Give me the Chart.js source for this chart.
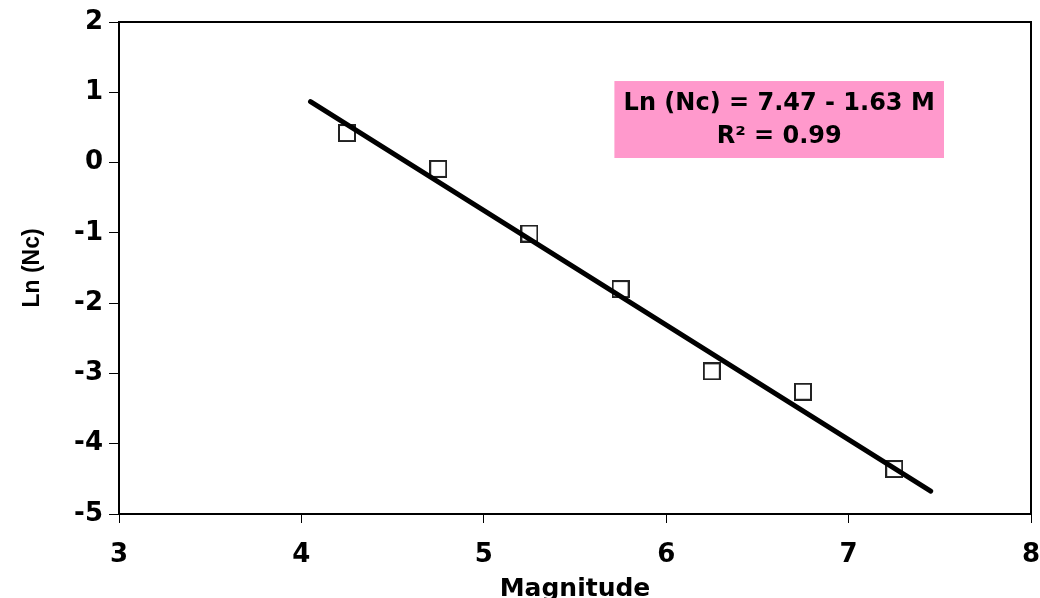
<!DOCTYPE html>
<html>
<head>
<meta charset="utf-8">
<script src="https://cdn.jsdelivr.net/npm/chart.js@4/dist/chart.umd.min.js"></script>
<style>
  html,body{margin:0;padding:0;background:#fff}
  #wrap{width:1040px;height:598px}
</style>
</head>
<body>
<div id="wrap"><canvas id="c" width="1040" height="598"></canvas></div>
<script>
// Ln(Nc) vs magnitude, with the least-squares line
const magnitude = [4.25, 4.75, 5.25, 5.75, 6.25, 6.75, 7.25];
const lnNc      = [0.42, -0.09, -1.01, -1.80, -2.97, -3.26, -4.36];

// regression line as stated in the label
const fitIntercept = 7.47;
const fitSlope = -1.63;
const fitFrom = 4.05, fitTo = 7.45;
const fitLabel = ['Ln (Nc) = 7.47 - 1.63 M', 'R\u00B2 = 0.99'];

const WIDE = "'DejaVu Sans', sans-serif";
const ARIAL = "Arial, 'Liberation Sans', sans-serif";

const fitPoints = [fitFrom, fitTo].map(m => ({x: m, y: fitIntercept + fitSlope * m}));

// hollow square marker as an image, so the big marker doesn't pad the layout
function squareMarker(size, lw, color){
  const c = document.createElement('canvas');
  c.width = size; c.height = size;
  const g = c.getContext('2d');
  g.strokeStyle = color; g.lineWidth = lw;
  g.strokeRect(lw / 2, lw / 2, size - lw, size - lw);
  return c;
}

// frame round the plot area
const frame = {
  id: 'frame',
  afterDraw(chart){
    const {ctx, chartArea: a} = chart;
    ctx.save();
    ctx.strokeStyle = '#000'; ctx.lineWidth = 2;
    ctx.strokeRect(a.left, a.top, a.right - a.left, a.bottom - a.top);
    ctx.restore();
  }
};

// pink box with the equation, placed in data units
const eqBox = {
  id: 'eqBox',
  afterDatasetsDraw(chart, args, o){
    const {ctx, scales:{x, y}} = chart;
    const l = x.getPixelForValue(o.x0), r = x.getPixelForValue(o.x1);
    const t = y.getPixelForValue(o.y0), b = y.getPixelForValue(o.y1);
    ctx.save();
    ctx.fillStyle = '#FF99CC';
    ctx.fillRect(l, t, r - l, b - t);
    ctx.fillStyle = '#000';
    ctx.font = 'bold 24px ' + WIDE;
    ctx.textAlign = 'center'; ctx.textBaseline = 'middle';
    const cx = (l + r) / 2, h = b - t;
    ctx.fillText(o.lines[0], cx, t + h * 0.29);
    ctx.fillText(o.lines[1], cx, t + h * 0.73);
    ctx.restore();
  }
};

new Chart(document.getElementById('c'), {
  type: 'scatter',
  data: {
    datasets: [
      {
        type: 'line',
        data: fitPoints,
        borderColor: '#000',
        borderWidth: 5,
        borderCapStyle: 'round',
        pointRadius: 0,
        fill: false,
        order: 0
      },
      {
        data: magnitude.map((m, i) => ({x: m, y: lnNc[i]})),
        pointStyle: squareMarker(18, 2, '#222'),
        pointRadius: 3,
        pointHoverRadius: 3,
        pointBorderWidth: 0,
        order: 1
      }
    ]
  },
  options: {
    responsive: false,
    animation: false,
    layout: {padding: {top: 22, right: 9, left: 0, bottom: 0}},
    plugins: {
      legend: {display: false},
      tooltip: {enabled: false},
      eqBox: {x0: 5.716, x1: 7.523, y0: 1.16, y1: 0.065, lines: fitLabel}
    },
    scales: {
      x: {
        type: 'linear', min: 3, max: 8,
        ticks: {stepSize: 1, color: '#000', padding: 17, font: {family: WIDE, size: 26, weight: 'bold'}},
        grid: {drawOnChartArea: false, drawTicks: true, tickLength: 9, color: '#000', lineWidth: 1},
        border: {display: true, color: '#000', width: 2},
        title: {display: true, text: 'Magnitude', color: '#000', padding: {top: 0, bottom: -6},
                font: {family: WIDE, size: 25, weight: 'bold'}},
        afterFit(s){ s.height = 84; s.paddingLeft = 0; s.paddingRight = 0; }
      },
      y: {
        type: 'linear', min: -5, max: 2,
        ticks: {stepSize: 1, color: '#000', padding: 6, font: {family: WIDE, size: 26, weight: 'bold'}},
        grid: {drawOnChartArea: false, drawTicks: true, tickLength: 10, color: '#000', lineWidth: 1},
        border: {display: true, color: '#000', width: 2},
        title: {display: true, text: 'Ln (Nc)', color: '#000', padding: {top: 19, bottom: 0},
                font: {family: ARIAL, size: 23, weight: 'bold'}},
        afterFit(s){ s.width = 119; s.paddingTop = 0; s.paddingBottom = 0; }
      }
    }
  },
  plugins: [frame, eqBox]
});
</script>
</body>
</html>
